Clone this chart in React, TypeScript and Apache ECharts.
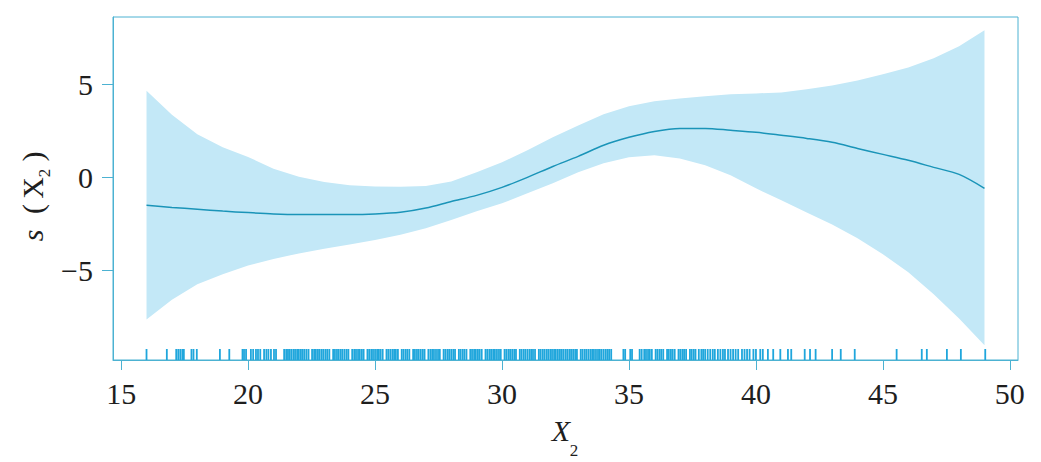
import React, { useEffect, useRef } from "react";
import * as echarts from "echarts";

const XS = [16, 17, 18, 19, 20, 21, 22, 23, 24, 25, 26, 27, 28, 29, 30, 31, 32, 33, 34, 35, 36, 37, 38, 39, 40, 41, 42, 43, 44, 45, 46, 47, 48, 49];
const FIT = [-1.51, -1.62, -1.72, -1.82, -1.9, -1.97, -2.0, -2.0, -2.0, -1.97, -1.88, -1.65, -1.3, -0.97, -0.54, 0.0, 0.59, 1.13, 1.73, 2.16, 2.48, 2.64, 2.64, 2.54, 2.43, 2.27, 2.1, 1.89, 1.56, 1.24, 0.92, 0.54, 0.16, -0.59];
const UPPER = [4.67, 3.38, 2.32, 1.63, 1.1, 0.47, 0.04, -0.25, -0.43, -0.49, -0.51, -0.46, -0.22, 0.27, 0.81, 1.46, 2.16, 2.8, 3.4, 3.83, 4.1, 4.26, 4.37, 4.48, 4.53, 4.58, 4.75, 4.96, 5.23, 5.56, 5.93, 6.42, 7.07, 7.93];
const LOWER = [-7.66, -6.6, -5.77, -5.22, -4.75, -4.4, -4.1, -3.85, -3.62, -3.38, -3.1, -2.75, -2.3, -1.83, -1.4, -0.86, -0.32, 0.27, 0.76, 1.08, 1.19, 1.02, 0.65, 0.11, -0.59, -1.24, -1.89, -2.54, -3.29, -4.15, -5.12, -6.31, -7.61, -9.06];
const RUG = [
  16.0, 16.8, 17.17, 17.25, 17.33, 17.41, 17.47, 17.77, 17.85, 17.98, 18.89, 19.26, 19.78, 19.84, 19.92,
  20.11, 20.2, 20.31, 20.39, 20.48, 20.63, 20.72, 20.8, 20.9, 21.02, 21.1,
  21.42, 21.5, 21.57, 21.63, 21.7, 21.78, 21.85, 21.93, 22.0, 22.08, 22.15, 22.22, 22.3, 22.38, 22.52, 22.6,
  22.67, 22.75, 22.82, 22.9, 22.97, 23.05, 23.12, 23.2, 23.35, 23.42, 23.5, 23.57, 23.65, 23.72, 23.8, 23.88,
  23.95, 24.1, 24.18, 24.25, 24.33, 24.4, 24.48, 24.55, 24.7, 24.77, 24.85, 24.92, 25.0, 25.08, 25.15, 25.22,
  25.3, 25.45, 25.52, 25.6, 25.68, 25.75, 25.82, 25.9, 26.05, 26.12, 26.2, 26.27, 26.35, 26.5, 26.57, 26.65,
  26.72, 26.8, 26.88, 26.95, 27.1, 27.18, 27.25, 27.32, 27.4, 27.48, 27.55, 27.7, 27.77, 27.85, 27.92, 28.0,
  28.08, 28.15, 28.3, 28.37, 28.45, 28.52, 28.6, 28.75, 28.82, 28.9, 28.97, 29.05, 29.12, 29.2, 29.35, 29.42,
  29.5, 29.57, 29.65, 29.72, 29.8, 29.88, 29.95, 30.1, 30.17, 30.25, 30.32, 30.4, 30.48, 30.55, 30.7, 30.77,
  30.85, 30.92, 31.0, 31.08, 31.15, 31.22, 31.3, 31.45, 31.52, 31.6, 31.67, 31.75, 31.82, 31.9, 31.97, 32.05,
  32.12, 32.2, 32.28, 32.35, 32.42, 32.5, 32.57, 32.65, 32.72, 32.8, 32.88, 32.95, 33.1, 33.17, 33.25, 33.32,
  33.4, 33.48, 33.55, 33.62, 33.7, 33.78, 33.85, 33.92, 34.0, 34.08, 34.15, 34.22, 34.3, 34.78, 34.85, 35.05,
  35.12, 35.42, 35.5, 35.6, 35.67, 35.75, 35.82, 35.9, 36.05, 36.12, 36.2, 36.27, 36.35, 36.5, 36.57, 36.65,
  36.72, 36.8, 36.95, 37.02, 37.1, 37.17, 37.25, 37.4, 37.47, 37.55, 37.62, 37.75, 37.85, 37.92, 38.0, 38.1,
  38.2, 38.3, 38.38, 38.5, 38.6, 38.7, 38.78, 38.9, 39.0, 39.1, 39.2, 39.3, 39.45, 39.55, 39.65, 39.75, 39.9,
  40.0, 40.17, 40.27, 40.47, 40.68, 40.96, 41.26, 41.39, 41.92, 42.13, 42.35, 43.0, 43.34, 43.89, 45.54,
  46.53, 46.73, 47.52, 48.07, 49.03,
];
const X_TICKS = [15, 20, 25, 30, 35, 40, 45, 50];
const Y_TICKS = [-5, 0, 5];
const X_MIN = 14.68;
const X_MAX = 50.32;
const Y_MIN = -9.85;
const Y_MAX = 8.65;

const AXIS_COLOR = "#4cb2d2";
const BAND_COLOR = "#c3e8f7";
const LINE_COLOR = "#1a94b8";
const RUG_COLOR = "#1fa6dc";
const TEXT_COLOR = "#1e1e1e";
const FONT = "Liberation Serif";

export default function App() {
  const ref = useRef<HTMLDivElement>(null);

  useEffect(() => {
    if (!ref.current) return;
    const chart = echarts.init(ref.current, null, { renderer: "svg" });

    const titleText = (text: string, x: number, y: number, size: number, italic: boolean, rot: number) => ({
      type: "text",
      x,
      y,
      rotation: rot,
      style: {
        text,
        fill: TEXT_COLOR,
        font: `${italic ? "italic " : ""}${size}px ${FONT}`,
        align: "center",
        verticalAlign: "middle",
      },
    });

    const option: any = {
      animation: false,
      grid: {
        left: 113,
        right: 23,
        top: 17,
        bottom: 102,
        show: true,
        borderColor: AXIS_COLOR,
        borderWidth: 1,
        backgroundColor: "transparent",
      },
      xAxis: {
        type: "value",
        min: X_MIN,
        max: X_MAX,
        axisLine: { show: true, onZero: false, lineStyle: { color: AXIS_COLOR, width: 1 } },
        axisTick: { show: true, length: 10, lineStyle: { color: AXIS_COLOR }, customValues: X_TICKS },
        axisLabel: {
          customValues: X_TICKS,
          fontSize: 30,
          fontFamily: FONT,
          color: TEXT_COLOR,
          margin: 18,
        },
        splitLine: { show: false },
      },
      yAxis: {
        type: "value",
        min: Y_MIN,
        max: Y_MAX,
        axisLine: { show: true, onZero: false, lineStyle: { color: AXIS_COLOR, width: 1 } },
        axisTick: { show: true, length: 11, lineStyle: { color: AXIS_COLOR }, customValues: Y_TICKS },
        axisLabel: {
          customValues: Y_TICKS,
          fontSize: 30,
          fontFamily: FONT,
          color: TEXT_COLOR,
          margin: 20,
          formatter: (v: number) => (v < 0 ? "\u2212" + Math.abs(v) : String(v)),
        },
        splitLine: { show: false },
      },
      series: [
        {
          type: "custom",
          name: "band",
          data: XS.map((x, i) => [x, UPPER[i], LOWER[i]]),
          encode: { x: 0, y: [1, 2] },
          renderItem: (params: any, api: any) => {
            if (params.dataIndex !== 0) return null;
            const pts: number[][] = [];
            for (let i = 0; i < XS.length; i++) pts.push(api.coord([XS[i], UPPER[i]]));
            for (let i = XS.length - 1; i >= 0; i--) pts.push(api.coord([XS[i], LOWER[i]]));
            return {
              type: "polygon",
              shape: { points: pts },
              style: { fill: BAND_COLOR, stroke: "none" },
            };
          },
          z: 1,
        },
        {
          type: "line",
          name: "fit",
          data: XS.map((x, i) => [x, FIT[i]]),
          showSymbol: false,
          smooth: 0.3,
          lineStyle: { color: LINE_COLOR, width: 1.5 },
          z: 3,
        },
        {
          type: "custom",
          name: "rug",
          data: RUG.map((v) => [v, Y_MIN]),
          encode: { x: 0, y: 1 },
          renderItem: (params: any, api: any) => {
            const p = api.coord([api.value(0), Y_MIN]);
            return {
              type: "line",
              shape: { x1: p[0], y1: p[1], x2: p[0], y2: p[1] - 11 },
              style: { stroke: RUG_COLOR, lineWidth: 1.8 },
            };
          },
          z: 2,
        },
      ],
      graphic: [
        titleText("X", 561, 430, 30, true, 0),
        titleText("2", 574, 450.5, 17, false, 0),
        titleText("s", 32, 235.5, 30, true, Math.PI / 2),
        titleText("(", 32, 209, 30, false, Math.PI / 2),
        titleText("X", 32, 188, 30, false, Math.PI / 2),
        titleText("2", 44.5, 173, 17, false, Math.PI / 2),
        titleText(")", 32, 156.5, 30, false, Math.PI / 2),
      ],
    };

    chart.setOption(option);
    return () => chart.dispose();
  }, []);

  return (
    <div
      ref={ref}
      style={{ position: "fixed", left: 0, top: 0, width: 1041, height: 462, background: "#ffffff" }}
    />
  );
}
